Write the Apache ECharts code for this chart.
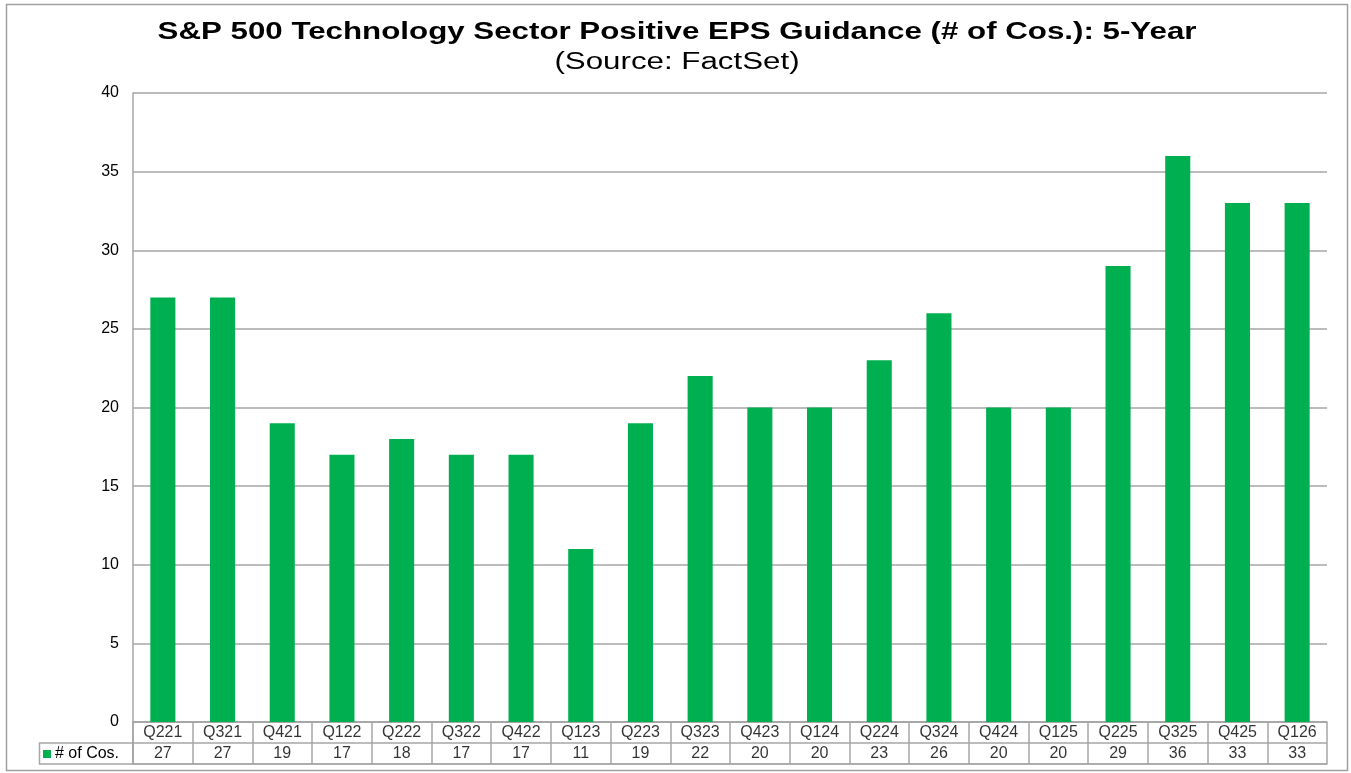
<!DOCTYPE html>
<html>
<head>
<meta charset="utf-8">
<script src="https://cdn.jsdelivr.net/npm/echarts@6/dist/echarts.min.js"></script>
<style>
  html, body { margin: 0; padding: 0; background: #fff; }
  #chart { width: 1351px; height: 773px; }
</style>
</head>
<body>
<div id="chart"></div>
<script>
// data
const quarters = ["Q221", "Q321", "Q421", "Q122", "Q222", "Q322", "Q422", "Q123", "Q223", "Q323",
  "Q423", "Q124", "Q224", "Q324", "Q424", "Q125", "Q225", "Q325", "Q425", "Q126"];
const numCos = [27, 27, 19, 17, 18, 17, 17, 11, 19, 22, 20, 20, 23, 26, 20, 20, 29, 36, 33, 33];
const yTicks = { min: 0, max: 40, interval: 5 };
const seriesName = "# of Cos.";

const green = "#00B050";
const lineGray = "#a6a6a6";
const font = "'Liberation Sans', Arial, sans-serif";
// the source image is stretched sideways, so the heading is widened to match
const headStretch = 1.36;

let chart = echarts.init(document.getElementById("chart"));

chart.setOption({
  backgroundColor: "#fff",
  animation: false,
  textStyle: { fontFamily: font },
  legend: {
    data: [seriesName],
    left: 43,
    top: 746,
    itemWidth: 8,
    itemHeight: 8,
    itemGap: 4,
    icon: "rect",
    padding: 0,
    textStyle: { fontSize: 16, color: "#000", fontFamily: font, padding: [0, 0, 0, -1] }
  },
  grid: [
    // plot area
    { left: 133, right: 24, top: 93, bottom: 51 },
    // data table under the plot
    { left: 133, right: 24, top: 722, height: 42 }
  ],
  xAxis: [
    {
      type: "category",
      gridIndex: 0,
      data: quarters,
      axisLine: { lineStyle: { color: lineGray, width: 1.5 } },
      axisTick: { show: false },
      axisLabel: { show: false }
    },
    {
      type: "category",
      gridIndex: 1,
      data: quarters,
      axisLine: { lineStyle: { color: lineGray, width: 1.5 } },
      axisTick: { show: false },
      axisLabel: { show: false },
      splitLine: { show: true, interval: 0, lineStyle: { color: lineGray, width: 1.5 } }
    }
  ],
  yAxis: [
    {
      type: "value",
      gridIndex: 0,
      min: yTicks.min,
      max: yTicks.max,
      interval: yTicks.interval,
      axisLine: { show: true, lineStyle: { color: lineGray, width: 1.5 } },
      axisTick: { show: false },
      axisLabel: { fontSize: 16, color: "#000", margin: 14, fontFamily: font },
      splitLine: { lineStyle: { color: lineGray, width: 1.5 } }
    },
    {
      type: "value",
      gridIndex: 1,
      min: 0,
      max: 2,
      interval: 1,
      axisLine: { show: true, lineStyle: { color: lineGray, width: 1.5 } },
      axisTick: { show: false },
      axisLabel: { show: false },
      splitLine: { lineStyle: { color: lineGray, width: 1.5 } }
    }
  ],
  graphic: [
    {
      type: "rect",
      shape: { x: 6.5, y: 4.5, width: 1341, height: 766 },
      style: { fill: "none", stroke: "#a0a0a0", lineWidth: 1.5 },
      z: 0
    },
    {
      type: "rect",
      shape: { x: 39.5, y: 743, width: 93.5, height: 21 },
      style: { fill: "none", stroke: lineGray, lineWidth: 1.5 },
      z: 0
    },
    {
      type: "text",
      x: 677,
      y: 33,
      originX: 0,
      scaleX: headStretch,
      style: {
        text: "S&P 500 Technology Sector Positive EPS Guidance (# of Cos.): 5-Year",
        font: "bold 23px " + font,
        fill: "#000",
        align: "center",
        verticalAlign: "middle"
      }
    },
    {
      type: "text",
      x: 677,
      y: 63,
      originX: 0,
      scaleX: headStretch,
      style: {
        text: "(Source: FactSet)",
        font: "23px " + font,
        fill: "#000",
        align: "center",
        verticalAlign: "middle"
      }
    }
  ],
  series: [
    {
      name: seriesName,
      type: "bar",
      xAxisIndex: 0,
      yAxisIndex: 0,
      data: numCos,
      barWidth: "42%",
      itemStyle: { color: green }
    },
    {
      name: "categories",
      type: "scatter",
      xAxisIndex: 1,
      yAxisIndex: 1,
      symbolSize: 0,
      data: quarters.map((q, i) => [i, 1.5, q]),
      label: {
        show: true,
        position: "inside",
        formatter: p => p.data[2],
        fontSize: 16,
        color: "#000",
        fontFamily: font
      },
      silent: true
    },
    {
      name: "values",
      type: "scatter",
      xAxisIndex: 1,
      yAxisIndex: 1,
      symbolSize: 0,
      data: numCos.map((v, i) => [i, 0.5, v]),
      label: {
        show: true,
        position: "inside",
        formatter: p => String(p.data[2]),
        fontSize: 16,
        color: "#000",
        fontFamily: font
      },
      silent: true
    }
  ]
});

window.addEventListener("resize", () => {
  chart.resize();
});
</script>
</body>
</html>
